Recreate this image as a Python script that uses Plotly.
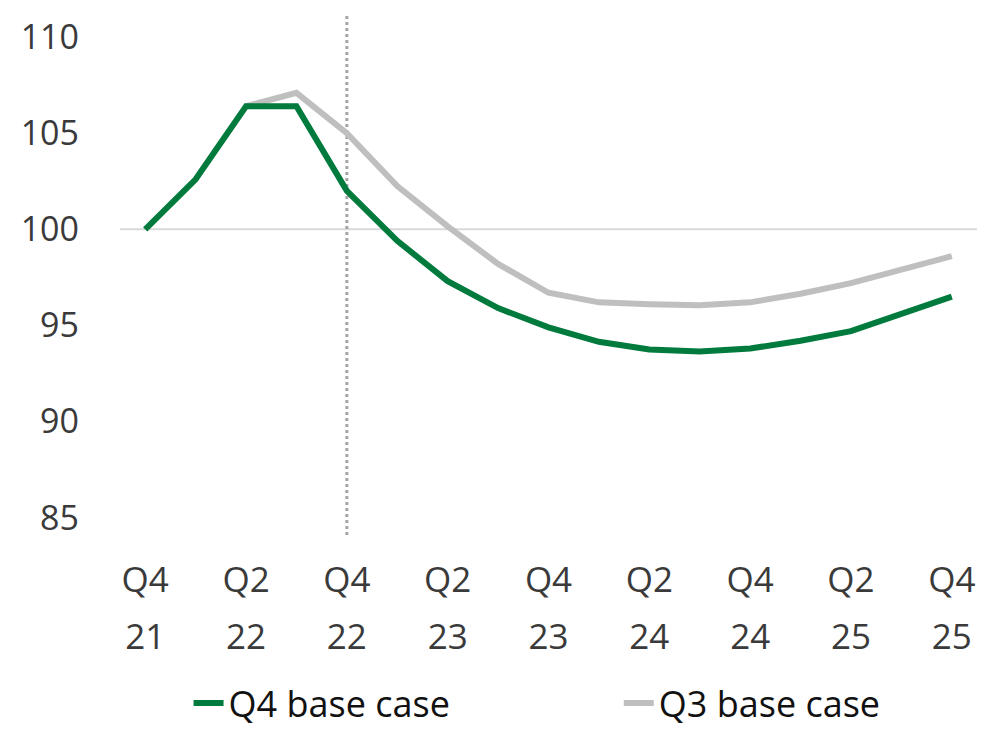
import plotly.graph_objects as go

# Quarterly index, Q4 2021 = 100
quarters = ["Q4 21", "Q1 22", "Q2 22", "Q3 22", "Q4 22", "Q1 23", "Q2 23", "Q3 23", "Q4 23",
            "Q1 24", "Q2 24", "Q3 24", "Q4 24", "Q1 25", "Q2 25", "Q3 25", "Q4 25"]
q4_base_case = [100.0, 102.6, 106.4, 106.4, 102.0, 99.4, 97.3, 95.9, 94.9,
                94.15, 93.75, 93.65, 93.8, 94.2, 94.7, 95.6, 96.5]
q3_base_case = [None, None, 106.4, 107.1, 105.0, 102.25, 100.15, 98.2, 96.7,
                96.2, 96.1, 96.05, 96.2, 96.65, 97.2, 97.9, 98.6]

tick_quarters = quarters[::2]
tick_labels = [q.replace(" ", "<br>") for q in tick_quarters]
y_ticks = [85, 90, 95, 100, 105, 110]
forecast_start = "Q4 22"

FONT = "Open Sans, Lato, sans-serif"
GREEN = "#007A3D"
GREY = "#BFBFBF"

fig = go.Figure()
fig.add_trace(go.Scatter(x=quarters, y=q3_base_case, mode="lines", name="Q3 base case",
                         line=dict(color=GREY, width=6), legend="legend2"))
fig.add_trace(go.Scatter(x=quarters, y=q4_base_case, mode="lines", name="Q4 base case",
                         line=dict(color=GREEN, width=6), legend="legend"))

# dotted marker for the start of the forecast period
fig.add_shape(type="line", xref="x", yref="y", x0=forecast_start, x1=forecast_start,
              y0=84.1, y1=111.25, line=dict(color="#A6A6A6", width=3, dash="dot"), layer="below")

# spacing between the two tick-label lines comes from the outer font size
span = "<span style='font-size:35px'>{}</span>"
tick_text = ["<br>".join(span.format(p) for p in t.split("<br>")) for t in tick_labels]

legend_style = dict(orientation="h", xanchor="left", xref="paper", y=-0.322, yanchor="middle",
                    font=dict(size=36, color="#111111"), itemwidth=30, bgcolor="rgba(0,0,0,0)")

fig.update_layout(
    width=993, height=738,
    margin=dict(l=120, r=16, t=13, b=203, autoexpand=False),
    paper_bgcolor="white", plot_bgcolor="white",
    font=dict(family=FONT, color="#3A3A3A"),
    showlegend=True,
    legend=dict(x=0.08, **legend_style),
    legend2=dict(x=0.582, **legend_style),
    xaxis=dict(type="category", categoryorder="array", categoryarray=quarters,
               range=[-0.5, 16.5], tickmode="array", tickvals=tick_quarters, ticktext=tick_text,
               tickfont=dict(size=44, color="#3A3A3A"), showgrid=False, zeroline=False,
               showline=False, ticks="", ticklabelstandoff=12),
    yaxis=dict(range=[84.1, 111.25], tickmode="array", tickvals=y_ticks,
               tickfont=dict(size=34, color="#3A3A3A"), showgrid=False, zeroline=False,
               showline=False, ticks="", ticklabelstandoff=40),
)

# single reference line at 100
fig.add_hline(y=100, line=dict(color="#D9D9D9", width=2), layer="below")

fig.write_html("out.html")
